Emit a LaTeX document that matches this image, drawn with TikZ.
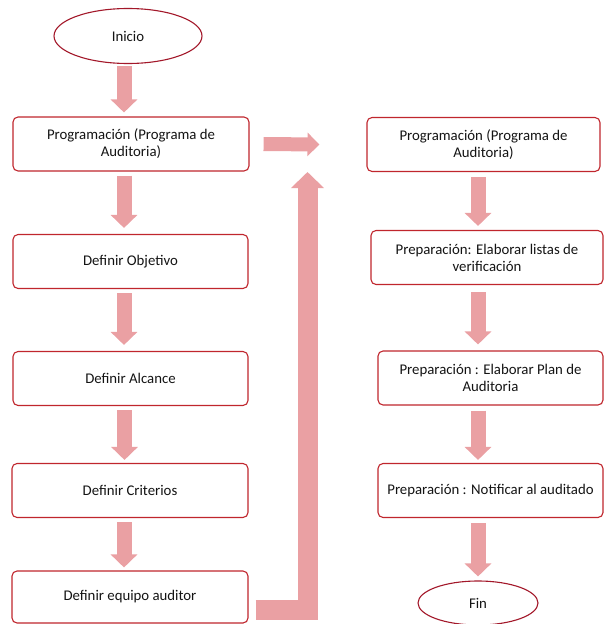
\documentclass[tikz,border=0pt]{standalone}
\usepackage{fontspec}
\setmainfont{Carlito}
\usetikzlibrary{arrows.meta,shapes.geometric}
\definecolor{boxred}{HTML}{C0262D}
\definecolor{ellred}{HTML}{A3182A}
\definecolor{arrowpink}{HTML}{EAA0A3}
\definecolor{txt}{HTML}{141414}
\begin{document}
\begin{tikzpicture}[x=1pt,y=-1pt,
  every node/.style={font=\fontsize{14.8}{17}\selectfont, text=txt, align=center, inner sep=0pt},
  stepbox/.style={draw=boxred, line width=1.1pt, rounded corners=5pt, fill=white, minimum height=54pt},
  oval/.style={ellipse, draw=ellred, line width=1.1pt, fill=white},
  flow/.style={draw=arrowpink, line width=15pt, -{Triangle[width=26pt,length=13pt]}, arrowpink},
]
\useasboundingbox (0,0) rectangle (605,624);
% left column
\node[oval, minimum width=148pt, minimum height=55pt] (ini) at (128,36) {Inicio};
\node[stepbox, minimum width=236pt] (p1) at (131,144) {Programación (Programa de\\Auditoria)};
\node[stepbox, minimum width=235pt] (p2) at (130.5,261.5) {Definir Objetivo};
\node[stepbox, minimum width=235pt] (p3) at (130.5,378.5) {Definir Alcance};
\node[stepbox, minimum width=236pt] (p4) at (130,490.5) {Definir Criterios};
\node[stepbox, minimum width=236pt, minimum height=52pt] (p5) at (130,597) {Definir equipo auditor};
% right column
\node[stepbox, minimum width=233pt] (r1) at (483.5,144.5) {Programación (Programa de\\Auditoria)};
\node[stepbox, minimum width=232pt] (r2) at (487,257.5) {Preparación: Elaborar listas de\\verificación};
\node[stepbox, minimum width=225pt] (r3) at (490.5,378) {Preparación : Elaborar Plan de\\Auditoria};
\node[stepbox, minimum width=225pt] (r4) at (490.5,490.5) {Preparación : Notificar al auditado};
\node[oval, minimum width=120pt, minimum height=44pt] (fin) at (478,603) {Fin};
% left arrows
\draw[flow, shorten <=2pt, shorten >=4pt] ([xshift=-4pt]ini.south) -- ([xshift=-4pt]ini.south |- p1.north);
\draw[flow, shorten <=4pt, shorten >=6pt] ([xshift=-7pt]p1.south) -- ([xshift=-7pt]p1.south |- p2.north);
\draw[flow, shorten <=4pt, shorten >=6pt] ([xshift=-6.5pt]p2.south) -- ([xshift=-6.5pt]p2.south |- p3.north);
\draw[flow, shorten <=4pt, shorten >=3pt] ([xshift=-6pt]p3.south) -- ([xshift=-6pt]p3.south |- p4.north);
\draw[flow, shorten <=4pt, shorten >=3pt] ([xshift=-6pt]p4.south) -- ([xshift=-6pt]p4.south |- p5.north);
% right arrows
\draw[flow, shorten <=5pt, shorten >=4pt] ([xshift=-5.5pt]r1.south) -- ([xshift=-5.5pt]r1.south |- r2.north);
\draw[flow, shorten <=7pt, shorten >=6pt] ([xshift=-9pt]r2.south) -- ([xshift=-9pt]r2.south |- r3.north);
\draw[flow, shorten <=5pt, shorten >=3pt] ([xshift=-12.5pt]r3.south) -- ([xshift=-12.5pt]r3.south |- r4.north);
\draw[flow, shorten <=5pt, shorten >=4pt] ([xshift=-12.5pt]r4.south) -- ([xshift=-12.5pt]r4.south |- fin.north);
% horizontal arrow between columns
\coordinate (hstart) at ([xshift=14pt]p1.east);
\coordinate (hend) at ([xshift=-47pt]r1.west);
\draw[draw=arrowpink, line width=14pt, -{Triangle[width=23pt,length=12pt]}, arrowpink] (hstart) -- (hend);
% elbow arrow from last left box up
\coordinate (ecorner) at (307.5,610);
\coordinate (eend) at (307.5,172);
\path (p5.east |- ecorner) ++(7,0) coordinate (estart);
\draw[draw=arrowpink, line width=20pt, line join=miter, -{Triangle[width=32pt,length=16pt]}, arrowpink] (estart) -- (ecorner) -- (eend);
\end{tikzpicture}
\end{document}
